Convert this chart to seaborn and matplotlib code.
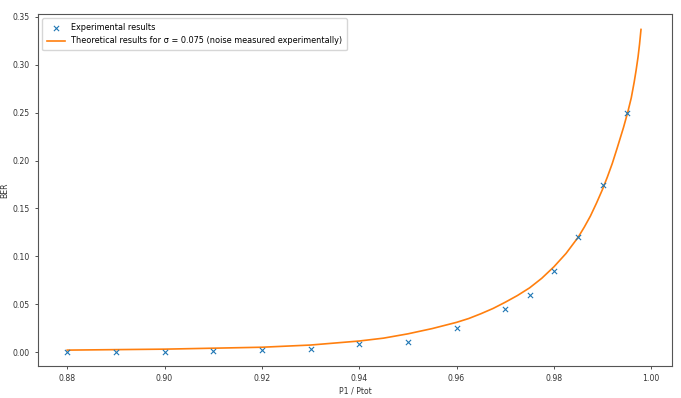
import matplotlib
matplotlib.use("Agg")
import matplotlib.pyplot as plt
import seaborn as sns
import pandas as pd

# Experimental results
exp_x = [0.88, 0.89, 0.90, 0.91, 0.92, 0.93, 0.94, 0.95, 0.96, 0.97, 0.975, 0.98, 0.985, 0.99, 0.995]
exp_ber = [0.000, 0.000, 0.000, 0.001, 0.002, 0.0035, 0.008, 0.010, 0.025, 0.045, 0.060, 0.085, 0.120, 0.175, 0.250]

# Theoretical curve
th_x = [0.88, 0.89, 0.90, 0.91, 0.92, 0.93, 0.94, 0.945, 0.95, 0.955, 0.96, 0.9625, 0.965, 0.9675,
        0.97, 0.9725, 0.975, 0.9775, 0.98, 0.9825, 0.985, 0.98625, 0.9875, 0.98875, 0.99, 0.991,
        0.992, 0.993, 0.9943, 0.9952, 0.9959, 0.9965, 0.9969, 0.9973, 0.9976, 0.9979]
th_ber = [0.002, 0.0025, 0.003, 0.004, 0.005, 0.0073, 0.0115, 0.0145, 0.019, 0.0245, 0.031, 0.035,
          0.040, 0.0455, 0.052, 0.059, 0.067, 0.077, 0.089, 0.103, 0.120, 0.1305, 0.142, 0.1555,
          0.170, 0.183, 0.197, 0.213, 0.2345, 0.251, 0.2655, 0.282, 0.2945, 0.3085, 0.3215, 0.337]

exp_df = pd.DataFrame({"x": exp_x, "ber": exp_ber})
th_df = pd.DataFrame({"x": th_x, "ber": th_ber})

plt.rcParams["font.family"] = ["DejaVu Sans"]
fig = plt.figure(figsize=(6.81, 3.98), dpi=100)
ax = fig.add_axes([0.0558, 0.0804, 0.9312, 0.8846])

sns.scatterplot(data=exp_df, x="x", y="ber", marker="x", color="#1f77b4", s=14,
                linewidth=0.8, ax=ax, label="Experimental results", zorder=3)
sns.lineplot(data=th_df, x="x", y="ber", color="#ff7f0e", linewidth=1.2, ax=ax,
             label="Theoretical results for σ = 0.075 (noise measured experimentally)")

ax.set_xticks([0.88, 0.90, 0.92, 0.94, 0.96, 0.98, 1.00])
ax.set_yticks([0.00, 0.05, 0.10, 0.15, 0.20, 0.25, 0.30, 0.35])
ax.set_xticklabels(["0.88", "0.90", "0.92", "0.94", "0.96", "0.98", "1.00"])
ax.set_yticklabels(["0.00", "0.05", "0.10", "0.15", "0.20", "0.25", "0.30", "0.35"])
ax.tick_params(labelsize=5.6, colors="#333333", length=2.5, width=0.6)
ax.set_xlabel("P1 / Ptot", fontsize=5.6, color="#333333", labelpad=2)
ax.set_ylabel("BER", fontsize=5.6, color="#333333", labelpad=2)
for sp in ax.spines.values():
    sp.set_linewidth(0.8)
    sp.set_color("#555555")

ax.set_xlim(0.874, 1.0043)
ax.set_ylim(-0.0146, 0.3532)

ax.legend(loc="upper left", fontsize=5.9, frameon=True, framealpha=0.8,
          edgecolor="#cccccc", handlelength=2.2, borderpad=0.6, labelspacing=0.55,
          handletextpad=0.7)

fig.savefig("out.png", dpi=100)
